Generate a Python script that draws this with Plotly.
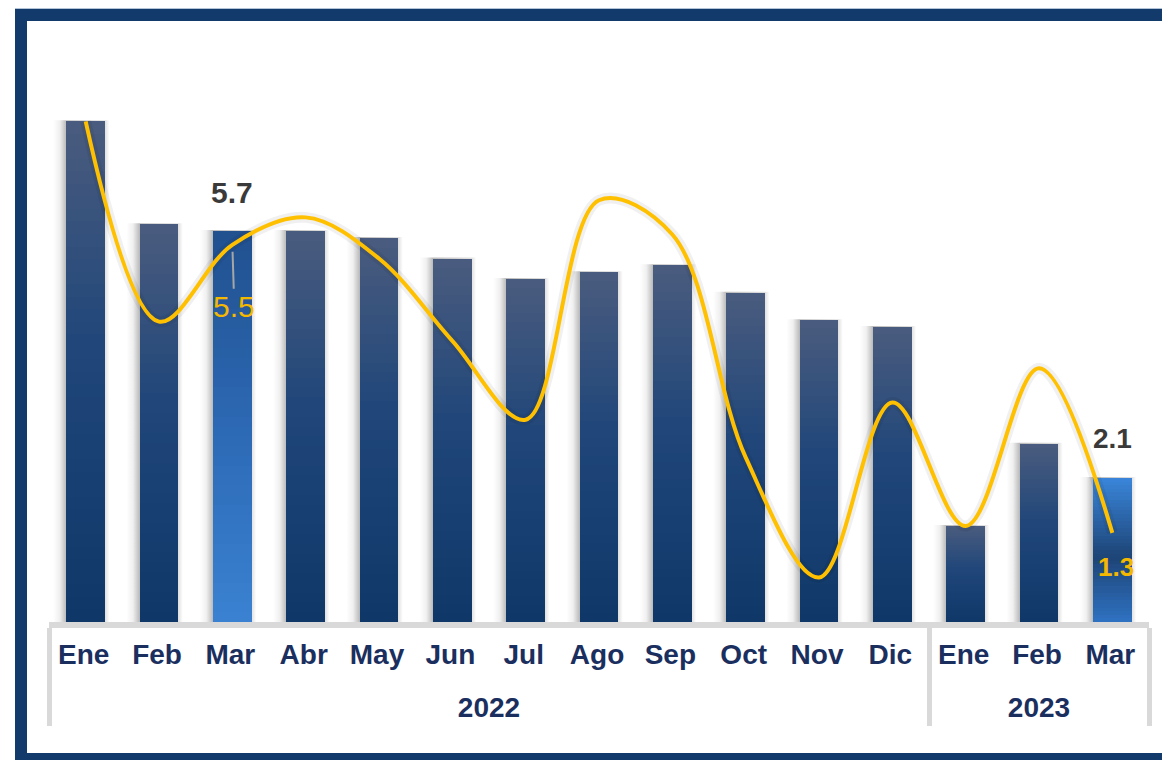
import plotly.graph_objects as go

# ---------------- data ----------------
years = ["2022"] * 12 + ["2023"] * 3
months = ["Ene", "Feb", "Mar", "Abr", "May", "Jun", "Jul", "Ago", "Sep", "Oct", "Nov", "Dic",
          "Ene", "Feb", "Mar"]
bar_values = [7.3, 5.8, 5.7, 5.7, 5.6, 5.3, 5.0, 5.1, 5.2, 4.8, 4.4, 4.3, 1.4, 2.6, 2.1]
line_values = [7.3, 4.38, 5.5, 5.9, 5.3, 4.1, 2.95, 6.15, 5.65, 2.4, 0.65, 3.2, 1.4, 3.7, 1.3]
highlighted = [("2022", "Mar"), ("2023", "Mar")]

# ---------------- layout constants ----------------
FONT = "Liberation Sans, Arial, sans-serif"
W, H = 1162, 760
ML, MR, MT, MB = 49, 13, 61, 138
PW, PH = W - ML - MR, H - MT - MB
YMAX = 8.18
BAR_W = 0.53


def hex2rgb(h):
    h = h.lstrip("#")
    return tuple(int(h[i:i + 2], 16) for i in (0, 2, 4))


def grad(stops, t):
    for (t0, c0), (t1, c1) in zip(stops, stops[1:]):
        if t0 <= t <= t1:
            f = (t - t0) / (t1 - t0) if t1 > t0 else 0
            a, b = hex2rgb(c0), hex2rgb(c1)
            return "rgb(%d,%d,%d)" % tuple(round(a[i] + (b[i] - a[i]) * f) for i in range(3))
    return stops[-1][1]


# t = 0 at bar bottom, 1 at bar top
normal_stops = [(0.0, "#0f3868"), (0.55, "#20467a"), (1.0, "#4a5c7e")]
hl_stops = {
    ("2022", "Mar"): [(0.0, "#3a82d2"), (0.5, "#2c69b4"), (1.0, "#21508e")],
    ("2023", "Mar"): [(0.0, "#2f72c2"), (0.45, "#1d4476"), (1.0, "#3a86da")],
}

fig = go.Figure()

# ---------------- soft shadows behind bars (base subplot, linear x) ----------------
SH_L, SH_R = 0.18, 0.06
for i, v in enumerate(bar_values):
    x0 = i - BAR_W / 2 - SH_L
    x1 = i + BAR_W / 2 + SH_R
    tot = x1 - x0
    a = SH_L / tot
    b = (SH_L + BAR_W) / tot
    fig.add_trace(go.Scatter(
        x=[x0, x0, x1, x1, x0], y=[0, v + 0.015, v + 0.015, 0, 0],
        mode="lines", line=dict(width=0), fill="toself",
        fillgradient=dict(type="horizontal", colorscale=[
            [0, "rgba(0,0,0,0)"], [a * 0.5, "rgba(0,0,0,0.06)"], [a, "rgba(0,0,0,0.27)"],
            [b, "rgba(0,0,0,0.12)"], [1, "rgba(0,0,0,0)"]]),
        hoverinfo="skip", showlegend=False, xaxis="x", yaxis="y",
    ))

# ---------------- gradient bars (overlay subplot, multicategory x) ----------------
SPAN = "<span style='font-size:47px'>\u200a</span>"
x = [years, [m + SPAN for m in months]]
N = 40
for k in range(N):
    t = (k + 0.5) / N
    cols = [grad(hl_stops.get((yr, mo), normal_stops), t) for yr, mo in zip(years, months)]
    fig.add_trace(go.Bar(
        x=x, y=[v / N for v in bar_values],
        marker=dict(color=cols, line=dict(width=0)),
        width=BAR_W, hoverinfo="skip", showlegend=False, xaxis="x2", yaxis="y2",
    ))

# line shadow + line
fig.add_trace(go.Scatter(
    x=x, y=line_values, mode="lines",
    line=dict(color="rgba(0,0,0,0.06)", width=11, shape="spline", smoothing=1.0),
    hoverinfo="skip", showlegend=False, xaxis="x2", yaxis="y2",
))
fig.add_trace(go.Scatter(
    x=x, y=line_values, mode="lines",
    line=dict(color="#ffc000", width=4, shape="spline", smoothing=1.0),
    showlegend=False, xaxis="x2", yaxis="y2",
))

# ---------------- data labels ----------------
i22, i23 = 2, 14
fig.add_annotation(x=i22, y=bar_values[i22], xref="x", yref="y",
                   text=f"{bar_values[i22]:.1f}", showarrow=False, yanchor="bottom", yshift=20,
                   font=dict(family=FONT, size=30, color="#3a3a3a", weight="bold"))
fig.add_annotation(x=i23, y=bar_values[i23], xref="x", yref="y",
                   text=f"{bar_values[i23]:.1f}", showarrow=False, yanchor="bottom", yshift=22,
                   font=dict(family=FONT, size=28, color="#3a3a3a", weight="bold"))
fig.add_annotation(x=i22, y=line_values[i22], xref="x", yref="y",
                   text=f"{line_values[i22]:.1f}",
                   showarrow=True, arrowhead=0, arrowwidth=2, arrowcolor="#a6a6a6",
                   ax=2, ay=62, standoff=7,
                   font=dict(family=FONT, size=30, color="#f5b800"))
fig.add_annotation(x=i23, y=line_values[i23], xref="x", yref="y",
                   text=f"{line_values[i23]:.1f}", showarrow=False, xshift=4, yshift=-34,
                   font=dict(family=FONT, size=26, color="#f5b800", weight="bold"))


# ---------------- frame ----------------
def px_x(p):
    return (p - ML) / PW


def px_y(p):
    return (H - MB - p) / PH


fig.add_shape(type="rect", xref="paper", yref="paper",
              x0=px_x(21), x1=px_x(1180), y0=px_y(759), y1=px_y(15),
              line=dict(color="#123a6b", width=12), fillcolor="rgba(0,0,0,0)", layer="above")
fig.add_shape(type="line", xref="paper", yref="paper",
              x0=px_x(15), x1=px_x(1180), y0=px_y(8.5), y1=px_y(8.5),
              line=dict(color="#b4c4d8", width=1))

fig.update_layout(
    width=W, height=H,
    margin=dict(l=ML, r=MR, t=MT, b=MB),
    barmode="stack",
    plot_bgcolor="white", paper_bgcolor="white",
    showlegend=False,
    font=dict(family=FONT),
    xaxis=dict(range=[-0.5, 14.5], visible=False, showgrid=False, zeroline=False),
    yaxis=dict(range=[0, YMAX], visible=False, showgrid=False, zeroline=False),
    xaxis2=dict(
        type="multicategory", overlaying="x", anchor="y2", side="bottom",
        range=[-0.5, 14.5],
        showline=True, linecolor="#d9d9d9", linewidth=6,
        showdividers=True, dividercolor="#d9d9d9", dividerwidth=5,
        showgrid=False, ticks="", ticklabelstandoff=2,
        tickfont=dict(family=FONT, size=28, color="#1b2f5f", weight="bold"),
    ),
    yaxis2=dict(overlaying="y", range=[0, YMAX], visible=False, showgrid=False, zeroline=False),
)

fig.write_html(
    "out.html",
    config={"displayModeBar": False},
    post_script="document.body.style.margin='0px';document.body.style.overflow='hidden';",
)
